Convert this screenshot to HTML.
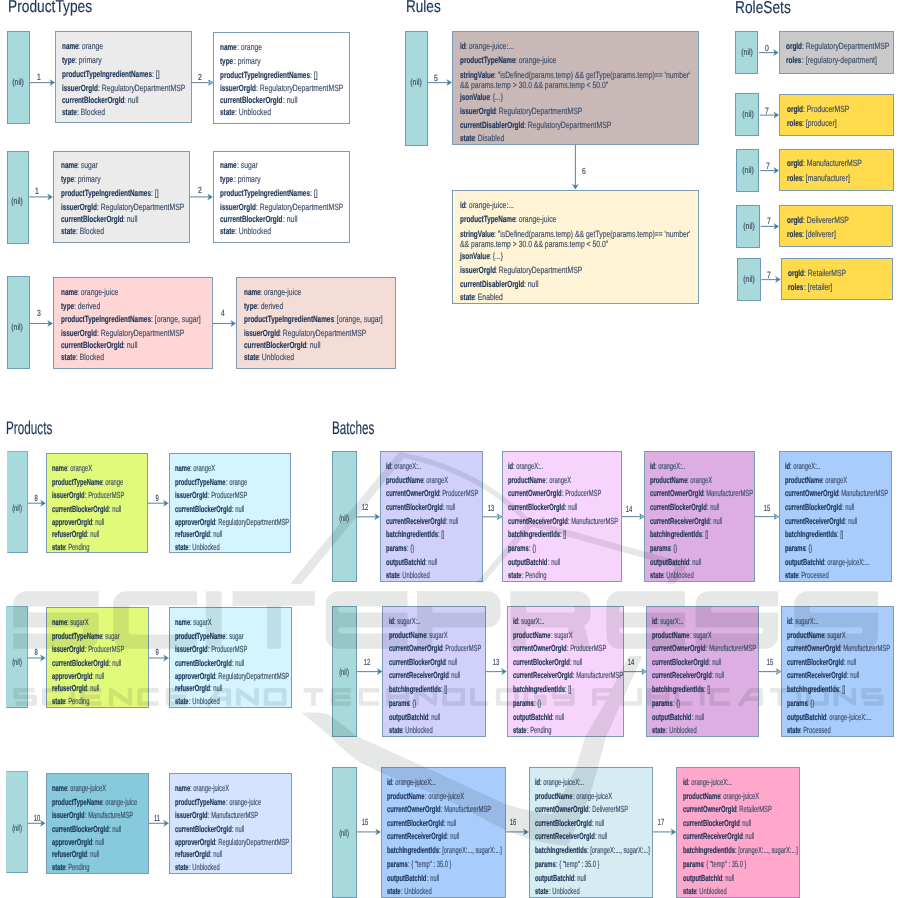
<!DOCTYPE html>
<html><head><meta charset="utf-8"><title>State diagram</title>
<style>
html,body{margin:0;padding:0;background:#fff}
body{width:901px;height:898px;position:relative;overflow:hidden;font-family:"Liberation Sans",sans-serif}
.b{position:absolute;border:1px solid #7c9bb4;box-sizing:content-box}
.t{position:absolute;white-space:pre;text-rendering:geometricPrecision;-webkit-text-stroke:0.18px currentColor;line-height:12px;color:#3f506b;transform-origin:0 50%}
.k{color:#1d3557;font-weight:bold}
.l{width:40px;text-align:center;transform-origin:50% 50%;color:#3b4a63}
.h1{color:#1d3557}
svg.a{position:absolute;left:0;top:0}
svg.a line{stroke:#6b8ba4;stroke-width:1.1}
svg.a .h{fill:#3f7da3;stroke:#3f7da3;stroke-width:0.3}
svg.a .o{fill:#b9d0ea;stroke:#3f7da3;stroke-width:0.8}
svg.w{position:absolute;left:0;top:0;mix-blend-mode:multiply}
</style></head><body>
<div class="t h1" style="left:8.4px;top:-4.0px;font-size:17.2px;line-height:20px;transform:scaleX(0.8)">ProductTypes</div>
<div class="t h1" style="left:405.6px;top:-4.0px;font-size:17.2px;line-height:20px;transform:scaleX(0.79)">Rules</div>
<div class="t h1" style="left:735.4px;top:-3.4px;font-size:17.2px;line-height:20px;transform:scaleX(0.8)">RoleSets</div>
<div class="t h1" style="left:6.4px;top:417.7px;font-size:18.2px;line-height:20px;transform:scaleX(0.645)">Products</div>
<div class="t h1" style="left:331.5px;top:417.6px;font-size:18.2px;line-height:20px;transform:scaleX(0.645)">Batches</div>
<div class="b" style="left:6.8px;top:30.5px;width:21.7px;height:91.2px;background:#a8dadc;border-color:#6a9db3"></div>
<div class="t l" style="left:-2.4px;top:76.0px;font-size:9.0px;transform:scaleX(0.759)">(nil)</div>
<div class="b" style="left:55.0px;top:31.0px;width:135.0px;height:90.0px;background:#ebebeb;border-color:#7c9bb4"></div>
<div class="t k" style="left:61.70px;top:40.3px;font-size:9.0px;transform:scaleX(0.709)">name</div>
<div class="t" style="left:78.37px;top:40.3px;font-size:9.0px;transform:scaleX(0.759)">: orange</div>
<div class="t k" style="left:61.70px;top:54.1px;font-size:9.0px;transform:scaleX(0.709)">type</div>
<div class="t" style="left:74.82px;top:54.1px;font-size:9.0px;transform:scaleX(0.759)">: primary</div>
<div class="t k" style="left:61.70px;top:67.8px;font-size:9.0px;transform:scaleX(0.709)">productTypeIngredientNames</div>
<div class="t" style="left:151.64px;top:67.8px;font-size:9.0px;transform:scaleX(0.759)">: []</div>
<div class="t k" style="left:61.70px;top:81.7px;font-size:9.0px;transform:scaleX(0.709)">issuerOrgId</div>
<div class="t" style="left:97.52px;top:81.7px;font-size:9.0px;transform:scaleX(0.759)">: RegulatoryDepartmentMSP</div>
<div class="t k" style="left:61.70px;top:93.5px;font-size:9.0px;transform:scaleX(0.709)">currentBlockerOrgId</div>
<div class="t" style="left:124.11px;top:93.5px;font-size:9.0px;transform:scaleX(0.759)">: null</div>
<div class="t k" style="left:61.70px;top:105.6px;font-size:9.0px;transform:scaleX(0.709)">state</div>
<div class="t" style="left:76.60px;top:105.6px;font-size:9.0px;transform:scaleX(0.759)">: Blocked</div>
<div class="b" style="left:212.8px;top:31.7px;width:135.7px;height:90.0px;background:#ffffff;border-color:#7c9bb4"></div>
<div class="t k" style="left:220.40px;top:41.0px;font-size:9.0px;transform:scaleX(0.709)">name</div>
<div class="t" style="left:237.07px;top:41.0px;font-size:9.0px;transform:scaleX(0.759)">: orange</div>
<div class="t k" style="left:220.40px;top:54.8px;font-size:9.0px;transform:scaleX(0.709)">type</div>
<div class="t" style="left:233.52px;top:54.8px;font-size:9.0px;transform:scaleX(0.759)">: primary</div>
<div class="t k" style="left:220.40px;top:68.5px;font-size:9.0px;transform:scaleX(0.709)">productTypeIngredientNames</div>
<div class="t" style="left:310.34px;top:68.5px;font-size:9.0px;transform:scaleX(0.759)">: []</div>
<div class="t k" style="left:220.40px;top:82.4px;font-size:9.0px;transform:scaleX(0.709)">issuerOrgId</div>
<div class="t" style="left:256.22px;top:82.4px;font-size:9.0px;transform:scaleX(0.759)">: RegulatoryDepartmentMSP</div>
<div class="t k" style="left:220.40px;top:94.2px;font-size:9.0px;transform:scaleX(0.709)">currentBlockerOrgId</div>
<div class="t" style="left:282.81px;top:94.2px;font-size:9.0px;transform:scaleX(0.759)">: null</div>
<div class="t k" style="left:220.40px;top:106.3px;font-size:9.0px;transform:scaleX(0.709)">state</div>
<div class="t" style="left:235.30px;top:106.3px;font-size:9.0px;transform:scaleX(0.759)">: Unblocked</div>
<div class="t l" style="left:18.6px;top:71.2px;font-size:9.0px;transform:scaleX(0.759)">1</div>
<div class="t l" style="left:180.0px;top:71.2px;font-size:9.0px;transform:scaleX(0.759)">2</div>
<div class="b" style="left:6.6px;top:150.7px;width:20.8px;height:91.1px;background:#a8dadc;border-color:#6a9db3"></div>
<div class="t l" style="left:-3.0px;top:195.0px;font-size:9.0px;transform:scaleX(0.759)">(nil)</div>
<div class="b" style="left:52.8px;top:150.7px;width:135.5px;height:90.0px;background:#ebebeb;border-color:#7c9bb4"></div>
<div class="t k" style="left:60.80px;top:159.3px;font-size:9.0px;transform:scaleX(0.709)">name</div>
<div class="t" style="left:77.47px;top:159.3px;font-size:9.0px;transform:scaleX(0.759)">: sugar</div>
<div class="t k" style="left:60.80px;top:173.1px;font-size:9.0px;transform:scaleX(0.709)">type</div>
<div class="t" style="left:73.92px;top:173.1px;font-size:9.0px;transform:scaleX(0.759)">: primary</div>
<div class="t k" style="left:60.80px;top:186.8px;font-size:9.0px;transform:scaleX(0.709)">productTypeIngredientNames</div>
<div class="t" style="left:150.74px;top:186.8px;font-size:9.0px;transform:scaleX(0.759)">: []</div>
<div class="t k" style="left:60.80px;top:200.7px;font-size:9.0px;transform:scaleX(0.709)">issuerOrgId</div>
<div class="t" style="left:96.62px;top:200.7px;font-size:9.0px;transform:scaleX(0.759)">: RegulatoryDepartmentMSP</div>
<div class="t k" style="left:60.80px;top:212.5px;font-size:9.0px;transform:scaleX(0.709)">currentBlockerOrgId</div>
<div class="t" style="left:123.21px;top:212.5px;font-size:9.0px;transform:scaleX(0.759)">: null</div>
<div class="t k" style="left:60.80px;top:224.6px;font-size:9.0px;transform:scaleX(0.709)">state</div>
<div class="t" style="left:75.70px;top:224.6px;font-size:9.0px;transform:scaleX(0.759)">: Blocked</div>
<div class="b" style="left:212.8px;top:150.7px;width:135.7px;height:90.0px;background:#ffffff;border-color:#7c9bb4"></div>
<div class="t k" style="left:220.40px;top:159.3px;font-size:9.0px;transform:scaleX(0.709)">name</div>
<div class="t" style="left:237.07px;top:159.3px;font-size:9.0px;transform:scaleX(0.759)">: sugar</div>
<div class="t k" style="left:220.40px;top:173.1px;font-size:9.0px;transform:scaleX(0.709)">type</div>
<div class="t" style="left:233.52px;top:173.1px;font-size:9.0px;transform:scaleX(0.759)">: primary</div>
<div class="t k" style="left:220.40px;top:186.8px;font-size:9.0px;transform:scaleX(0.709)">productTypeIngredientNames</div>
<div class="t" style="left:310.34px;top:186.8px;font-size:9.0px;transform:scaleX(0.759)">: []</div>
<div class="t k" style="left:220.40px;top:200.7px;font-size:9.0px;transform:scaleX(0.709)">issuerOrgId</div>
<div class="t" style="left:256.22px;top:200.7px;font-size:9.0px;transform:scaleX(0.759)">: RegulatoryDepartmentMSP</div>
<div class="t k" style="left:220.40px;top:212.5px;font-size:9.0px;transform:scaleX(0.709)">currentBlockerOrgId</div>
<div class="t" style="left:282.81px;top:212.5px;font-size:9.0px;transform:scaleX(0.759)">: null</div>
<div class="t k" style="left:220.40px;top:224.6px;font-size:9.0px;transform:scaleX(0.709)">state</div>
<div class="t" style="left:235.30px;top:224.6px;font-size:9.0px;transform:scaleX(0.759)">: Unblocked</div>
<div class="t l" style="left:17.0px;top:185.0px;font-size:9.0px;transform:scaleX(0.759)">1</div>
<div class="t l" style="left:180.0px;top:184.3px;font-size:9.0px;transform:scaleX(0.759)">2</div>
<div class="b" style="left:6.6px;top:275.7px;width:21.4px;height:91.1px;background:#a8dadc;border-color:#6a9db3"></div>
<div class="t l" style="left:-2.7px;top:320.5px;font-size:9.0px;transform:scaleX(0.759)">(nil)</div>
<div class="b" style="left:52.8px;top:276.8px;width:157.9px;height:90.0px;background:#ffd6d6;border-color:#7c9bb4"></div>
<div class="t k" style="left:60.80px;top:285.9px;font-size:9.0px;transform:scaleX(0.709)">name</div>
<div class="t" style="left:77.47px;top:285.9px;font-size:9.0px;transform:scaleX(0.759)">: orange-juice</div>
<div class="t k" style="left:60.80px;top:299.6px;font-size:9.0px;transform:scaleX(0.709)">type</div>
<div class="t" style="left:73.92px;top:299.6px;font-size:9.0px;transform:scaleX(0.759)">: derived</div>
<div class="t k" style="left:60.80px;top:313.2px;font-size:9.0px;transform:scaleX(0.709)">productTypeIngredientNames</div>
<div class="t" style="left:150.74px;top:313.2px;font-size:9.0px;transform:scaleX(0.759)">: [orange, sugar]</div>
<div class="t k" style="left:60.80px;top:327.0px;font-size:9.0px;transform:scaleX(0.709)">issuerOrgId</div>
<div class="t" style="left:96.62px;top:327.0px;font-size:9.0px;transform:scaleX(0.759)">: RegulatoryDepartmentMSP</div>
<div class="t k" style="left:60.80px;top:338.9px;font-size:9.0px;transform:scaleX(0.709)">currentBlockerOrgId</div>
<div class="t" style="left:123.21px;top:338.9px;font-size:9.0px;transform:scaleX(0.759)">: null</div>
<div class="t k" style="left:60.80px;top:351.4px;font-size:9.0px;transform:scaleX(0.709)">state</div>
<div class="t" style="left:75.70px;top:351.4px;font-size:9.0px;transform:scaleX(0.759)">: Blocked</div>
<div class="b" style="left:235.9px;top:276.8px;width:157.9px;height:90.0px;background:#f5ddd7;border-color:#7c9bb4"></div>
<div class="t k" style="left:243.50px;top:285.9px;font-size:9.0px;transform:scaleX(0.709)">name</div>
<div class="t" style="left:260.17px;top:285.9px;font-size:9.0px;transform:scaleX(0.759)">: orange-juice</div>
<div class="t k" style="left:243.50px;top:299.6px;font-size:9.0px;transform:scaleX(0.709)">type</div>
<div class="t" style="left:256.62px;top:299.6px;font-size:9.0px;transform:scaleX(0.759)">: derived</div>
<div class="t k" style="left:243.50px;top:313.2px;font-size:9.0px;transform:scaleX(0.709)">productTypeIngredientNames</div>
<div class="t" style="left:333.44px;top:313.2px;font-size:9.0px;transform:scaleX(0.759)">: [orange, sugar]</div>
<div class="t k" style="left:243.50px;top:327.0px;font-size:9.0px;transform:scaleX(0.709)">issuerOrgId</div>
<div class="t" style="left:279.32px;top:327.0px;font-size:9.0px;transform:scaleX(0.759)">: RegulatoryDepartmentMSP</div>
<div class="t k" style="left:243.50px;top:338.9px;font-size:9.0px;transform:scaleX(0.709)">currentBlockerOrgId</div>
<div class="t" style="left:305.91px;top:338.9px;font-size:9.0px;transform:scaleX(0.759)">: null</div>
<div class="t k" style="left:243.50px;top:351.4px;font-size:9.0px;transform:scaleX(0.709)">state</div>
<div class="t" style="left:258.40px;top:351.4px;font-size:9.0px;transform:scaleX(0.759)">: Unblocked</div>
<div class="t l" style="left:18.6px;top:306.6px;font-size:9.0px;transform:scaleX(0.759)">3</div>
<div class="t l" style="left:203.0px;top:306.6px;font-size:9.0px;transform:scaleX(0.759)">4</div>
<div class="b" style="left:404.8px;top:30.6px;width:21.4px;height:113.0px;background:#a8dadc;border-color:#6a9db3"></div>
<div class="t l" style="left:395.5px;top:75.5px;font-size:9.0px;transform:scaleX(0.759)">(nil)</div>
<div class="b" style="left:451.9px;top:30.6px;width:244.8px;height:112.3px;background:#c9b8b8;border-color:#7c9bb4"></div>
<div class="t k" style="left:459.50px;top:39.8px;font-size:9.0px;transform:scaleX(0.709)">id</div>
<div class="t" style="left:465.17px;top:39.8px;font-size:9.0px;transform:scaleX(0.759)">: orange-juice:...</div>
<div class="t k" style="left:459.50px;top:53.5px;font-size:9.0px;transform:scaleX(0.709)">productTypeName</div>
<div class="t" style="left:515.05px;top:53.5px;font-size:9.0px;transform:scaleX(0.759)">: orange-juice</div>
<div class="t k" style="left:459.50px;top:69.1px;font-size:9.0px;transform:scaleX(0.709)">stringValue</div>
<div class="t" style="left:493.90px;top:69.1px;font-size:9.0px;transform:scaleX(0.759)">: "isDefined(params.temp) &amp;&amp; getType(params.temp)== 'number'</div>
<div class="t" style="left:459.50px;top:78.6px;font-size:9.0px;transform:scaleX(0.759)">&amp;&amp; params.temp &gt; 30.0 &amp;&amp; params.temp &lt; 50.0"</div>
<div class="t k" style="left:459.50px;top:91.1px;font-size:9.0px;transform:scaleX(0.709)">jsonValue</div>
<div class="t" style="left:489.29px;top:91.1px;font-size:9.0px;transform:scaleX(0.759)">: {...}</div>
<div class="t k" style="left:459.50px;top:104.7px;font-size:9.0px;transform:scaleX(0.709)">issuerOrgId</div>
<div class="t" style="left:495.32px;top:104.7px;font-size:9.0px;transform:scaleX(0.759)">: RegulatoryDepartmentMSP</div>
<div class="t k" style="left:459.50px;top:119.2px;font-size:9.0px;transform:scaleX(0.709)">currentDisablerOrgId</div>
<div class="t" style="left:523.68px;top:119.2px;font-size:9.0px;transform:scaleX(0.759)">: RegulatoryDepartmentMSP</div>
<div class="t k" style="left:459.50px;top:132.0px;font-size:9.0px;transform:scaleX(0.709)">state</div>
<div class="t" style="left:474.40px;top:132.0px;font-size:9.0px;transform:scaleX(0.759)">: Disabled</div>
<div class="t l" style="left:416.2px;top:71.7px;font-size:9.0px;transform:scaleX(0.759)">5</div>
<div class="t l" style="left:564.2px;top:165.0px;font-size:9.0px;transform:scaleX(0.759)">6</div>
<div class="b" style="left:451.9px;top:189.8px;width:244.9px;height:112.4px;background:#fff5d6;border-color:#7c9bb4"></div>
<div class="t k" style="left:459.50px;top:198.9px;font-size:9.0px;transform:scaleX(0.709)">id</div>
<div class="t" style="left:465.17px;top:198.9px;font-size:9.0px;transform:scaleX(0.759)">: orange-juice:...</div>
<div class="t k" style="left:459.50px;top:212.6px;font-size:9.0px;transform:scaleX(0.709)">productTypeName</div>
<div class="t" style="left:515.05px;top:212.6px;font-size:9.0px;transform:scaleX(0.759)">: orange-juice</div>
<div class="t k" style="left:459.50px;top:228.2px;font-size:9.0px;transform:scaleX(0.709)">stringValue</div>
<div class="t" style="left:493.90px;top:228.2px;font-size:9.0px;transform:scaleX(0.759)">: "isDefined(params.temp) &amp;&amp; getType(params.temp)== 'number'</div>
<div class="t" style="left:459.50px;top:237.7px;font-size:9.0px;transform:scaleX(0.759)">&amp;&amp; params.temp &gt; 30.0 &amp;&amp; params.temp &lt; 50.0"</div>
<div class="t k" style="left:459.50px;top:250.2px;font-size:9.0px;transform:scaleX(0.709)">jsonValue</div>
<div class="t" style="left:489.29px;top:250.2px;font-size:9.0px;transform:scaleX(0.759)">: {...}</div>
<div class="t k" style="left:459.50px;top:263.8px;font-size:9.0px;transform:scaleX(0.709)">issuerOrgId</div>
<div class="t" style="left:495.32px;top:263.8px;font-size:9.0px;transform:scaleX(0.759)">: RegulatoryDepartmentMSP</div>
<div class="t k" style="left:459.50px;top:278.3px;font-size:9.0px;transform:scaleX(0.709)">currentDisablerOrgId</div>
<div class="t" style="left:523.68px;top:278.3px;font-size:9.0px;transform:scaleX(0.759)">: null</div>
<div class="t k" style="left:459.50px;top:291.1px;font-size:9.0px;transform:scaleX(0.709)">state</div>
<div class="t" style="left:474.40px;top:291.1px;font-size:9.0px;transform:scaleX(0.759)">: Enabled</div>
<div class="b" style="left:734.8px;top:30.6px;width:21.5px;height:41.2px;background:#a8dadc;border-color:#6a9db3"></div>
<div class="t l" style="left:727.0px;top:46.2px;font-size:9.0px;transform:scaleX(0.759)">(nil)</div>
<div class="b" style="left:778.6px;top:31.0px;width:113.7px;height:40.8px;background:#c9c9c9;border-color:#7c9bb4"></div>
<div class="t k" style="left:786.30px;top:40.4px;font-size:9.0px;transform:scaleX(0.709)">orgId</div>
<div class="t" style="left:802.25px;top:40.4px;font-size:9.0px;transform:scaleX(0.759)">: RegulatoryDepartmentMSP</div>
<div class="t k" style="left:786.30px;top:54.0px;font-size:9.0px;transform:scaleX(0.709)">roles</div>
<div class="t" style="left:801.55px;top:54.0px;font-size:9.0px;transform:scaleX(0.759)">: [regulatory-department]</div>
<div class="t l" style="left:747.0px;top:42.2px;font-size:9.0px;transform:scaleX(0.759)">0</div>
<div class="b" style="left:735.2px;top:93.1px;width:21.9px;height:40.6px;background:#a8dadc;border-color:#6a9db3"></div>
<div class="t l" style="left:727.7px;top:108.4px;font-size:9.0px;transform:scaleX(0.759)">(nil)</div>
<div class="b" style="left:779.0px;top:93.9px;width:113.3px;height:39.8px;background:#ffdb4d;border-color:#7c9bb4"></div>
<div class="t k" style="left:786.90px;top:102.9px;font-size:9.0px;transform:scaleX(0.709)">orgId</div>
<div class="t" style="left:802.85px;top:102.9px;font-size:9.0px;transform:scaleX(0.759)">: ProducerMSP</div>
<div class="t k" style="left:786.90px;top:116.8px;font-size:9.0px;transform:scaleX(0.709)">roles</div>
<div class="t" style="left:802.15px;top:116.8px;font-size:9.0px;transform:scaleX(0.759)">: [producer]</div>
<div class="t l" style="left:747.4px;top:104.5px;font-size:9.0px;transform:scaleX(0.759)">7</div>
<div class="b" style="left:735.8px;top:148.8px;width:21.7px;height:40.8px;background:#a8dadc;border-color:#6a9db3"></div>
<div class="t l" style="left:728.1px;top:164.2px;font-size:9.0px;transform:scaleX(0.759)">(nil)</div>
<div class="b" style="left:779.0px;top:148.8px;width:112.7px;height:40.0px;background:#ffdb4d;border-color:#7c9bb4"></div>
<div class="t k" style="left:786.90px;top:157.1px;font-size:9.0px;transform:scaleX(0.709)">orgId</div>
<div class="t" style="left:802.85px;top:157.1px;font-size:9.0px;transform:scaleX(0.759)">: ManufacturerMSP</div>
<div class="t k" style="left:786.90px;top:171.6px;font-size:9.0px;transform:scaleX(0.709)">roles</div>
<div class="t" style="left:802.15px;top:171.6px;font-size:9.0px;transform:scaleX(0.759)">: [manufacturer]</div>
<div class="t l" style="left:748.0px;top:160.0px;font-size:9.0px;transform:scaleX(0.759)">7</div>
<div class="b" style="left:736.4px;top:204.6px;width:21.7px;height:41.2px;background:#a8dadc;border-color:#6a9db3"></div>
<div class="t l" style="left:728.8px;top:220.2px;font-size:9.0px;transform:scaleX(0.759)">(nil)</div>
<div class="b" style="left:779.0px;top:205.0px;width:112.3px;height:40.3px;background:#ffdb4d;border-color:#7c9bb4"></div>
<div class="t k" style="left:786.90px;top:214.2px;font-size:9.0px;transform:scaleX(0.709)">orgId</div>
<div class="t" style="left:802.85px;top:214.2px;font-size:9.0px;transform:scaleX(0.759)">: DelivererMSP</div>
<div class="t k" style="left:786.90px;top:228.3px;font-size:9.0px;transform:scaleX(0.709)">roles</div>
<div class="t" style="left:802.15px;top:228.3px;font-size:9.0px;transform:scaleX(0.759)">: [deliverer]</div>
<div class="t l" style="left:749.0px;top:215.1px;font-size:9.0px;transform:scaleX(0.759)">7</div>
<div class="b" style="left:737.0px;top:257.8px;width:21.7px;height:41.2px;background:#a8dadc;border-color:#6a9db3"></div>
<div class="t l" style="left:729.4px;top:273.4px;font-size:9.0px;transform:scaleX(0.759)">(nil)</div>
<div class="b" style="left:780.6px;top:257.8px;width:110.7px;height:40.2px;background:#ffdb4d;border-color:#7c9bb4"></div>
<div class="t k" style="left:788.30px;top:266.9px;font-size:9.0px;transform:scaleX(0.709)">orgId</div>
<div class="t" style="left:804.25px;top:266.9px;font-size:9.0px;transform:scaleX(0.759)">: RetailerMSP</div>
<div class="t k" style="left:788.30px;top:281.1px;font-size:9.0px;transform:scaleX(0.709)">roles</div>
<div class="t" style="left:803.55px;top:281.1px;font-size:9.0px;transform:scaleX(0.759)">: [retailer]</div>
<div class="t l" style="left:749.4px;top:268.6px;font-size:9.0px;transform:scaleX(0.759)">7</div>
<div class="b" style="left:6.6px;top:451.2px;width:19.4px;height:99.9px;background:#a8dadc;border-color:#6a9db3;border-left-color:transparent;border-right-color:#93aab3;border-top-color:#82b4c6"></div>
<div class="t l" style="left:-3.2px;top:501.5px;font-size:8.8px;transform:scaleX(0.66)">(nil)</div>
<div class="b" style="left:45.7px;top:452.7px;width:100.7px;height:98.4px;background:#e2fa7a;border-color:#7c9bb4"></div>
<div class="t k" style="left:51.90px;top:462.2px;font-size:8.8px;transform:scaleX(0.66)">name</div>
<div class="t" style="left:67.07px;top:462.2px;font-size:8.8px;transform:scaleX(0.66)">: orangeX</div>
<div class="t k" style="left:51.90px;top:475.7px;font-size:8.8px;transform:scaleX(0.66)">productTypeName</div>
<div class="t" style="left:102.46px;top:475.7px;font-size:8.8px;transform:scaleX(0.66)">: orange</div>
<div class="t k" style="left:51.90px;top:489.3px;font-size:8.8px;transform:scaleX(0.66)">issuerOrgId</div>
<div class="t" style="left:84.50px;top:489.3px;font-size:8.8px;transform:scaleX(0.66)">: ProducerMSP</div>
<div class="t k" style="left:51.90px;top:502.8px;font-size:8.8px;transform:scaleX(0.66)">currentBlockerOrgId</div>
<div class="t" style="left:108.70px;top:502.8px;font-size:8.8px;transform:scaleX(0.66)">: null</div>
<div class="t k" style="left:51.90px;top:516.2px;font-size:8.8px;transform:scaleX(0.66)">approverOrgId</div>
<div class="t" style="left:92.24px;top:516.2px;font-size:8.8px;transform:scaleX(0.66)">: null</div>
<div class="t k" style="left:51.90px;top:528.3px;font-size:8.8px;transform:scaleX(0.66)">refuserOrgId</div>
<div class="t" style="left:87.08px;top:528.3px;font-size:8.8px;transform:scaleX(0.66)">: null</div>
<div class="t k" style="left:51.90px;top:540.7px;font-size:8.8px;transform:scaleX(0.66)">state</div>
<div class="t" style="left:65.46px;top:540.7px;font-size:8.8px;transform:scaleX(0.66)">: Pending</div>
<div class="b" style="left:168.6px;top:452.7px;width:120.9px;height:98.4px;background:#d4f4ff;border-color:#7c9bb4"></div>
<div class="t k" style="left:175.00px;top:462.2px;font-size:8.8px;transform:scaleX(0.66)">name</div>
<div class="t" style="left:190.17px;top:462.2px;font-size:8.8px;transform:scaleX(0.66)">: orangeX</div>
<div class="t k" style="left:175.00px;top:475.7px;font-size:8.8px;transform:scaleX(0.66)">productTypeName</div>
<div class="t" style="left:225.56px;top:475.7px;font-size:8.8px;transform:scaleX(0.66)">: orange</div>
<div class="t k" style="left:175.00px;top:489.3px;font-size:8.8px;transform:scaleX(0.66)">issuerOrgId</div>
<div class="t" style="left:207.60px;top:489.3px;font-size:8.8px;transform:scaleX(0.66)">: ProducerMSP</div>
<div class="t k" style="left:175.00px;top:502.8px;font-size:8.8px;transform:scaleX(0.66)">currentBlockerOrgId</div>
<div class="t" style="left:231.80px;top:502.8px;font-size:8.8px;transform:scaleX(0.66)">: null</div>
<div class="t k" style="left:175.00px;top:516.2px;font-size:8.8px;transform:scaleX(0.66)">approverOrgId</div>
<div class="t" style="left:215.34px;top:516.2px;font-size:8.8px;transform:scaleX(0.66)">: RegulatoryDepartmentMSP</div>
<div class="t k" style="left:175.00px;top:528.3px;font-size:8.8px;transform:scaleX(0.66)">refuserOrgId</div>
<div class="t" style="left:210.18px;top:528.3px;font-size:8.8px;transform:scaleX(0.66)">: null</div>
<div class="t k" style="left:175.00px;top:540.7px;font-size:8.8px;transform:scaleX(0.66)">state</div>
<div class="t" style="left:188.56px;top:540.7px;font-size:8.8px;transform:scaleX(0.66)">: Unblocked</div>
<div class="t l" style="left:16.2px;top:491.9px;font-size:8.8px;transform:scaleX(0.66)">8</div>
<div class="t l" style="left:136.5px;top:491.9px;font-size:8.8px;transform:scaleX(0.66)">9</div>
<div class="b" style="left:6.2px;top:605.5px;width:19.6px;height:100.3px;background:#a8dadc;border-color:#6a9db3;border-left-color:transparent;border-right-color:#93aab3;border-top-color:#82b4c6"></div>
<div class="t l" style="left:-3.5px;top:655.5px;font-size:8.8px;transform:scaleX(0.66)">(nil)</div>
<div class="b" style="left:45.5px;top:606.8px;width:101.3px;height:99.0px;background:#e2fa7a;border-color:#7c9bb4"></div>
<div class="t k" style="left:51.90px;top:616.3px;font-size:8.8px;transform:scaleX(0.66)">name</div>
<div class="t" style="left:67.07px;top:616.3px;font-size:8.8px;transform:scaleX(0.66)">: sugarX</div>
<div class="t k" style="left:51.90px;top:629.8px;font-size:8.8px;transform:scaleX(0.66)">productTypeName</div>
<div class="t" style="left:102.46px;top:629.8px;font-size:8.8px;transform:scaleX(0.66)">: sugar</div>
<div class="t k" style="left:51.90px;top:643.4px;font-size:8.8px;transform:scaleX(0.66)">issuerOrgId</div>
<div class="t" style="left:84.50px;top:643.4px;font-size:8.8px;transform:scaleX(0.66)">: ProducerMSP</div>
<div class="t k" style="left:51.90px;top:656.9px;font-size:8.8px;transform:scaleX(0.66)">currentBlockerOrgId</div>
<div class="t" style="left:108.70px;top:656.9px;font-size:8.8px;transform:scaleX(0.66)">: null</div>
<div class="t k" style="left:51.90px;top:670.3px;font-size:8.8px;transform:scaleX(0.66)">approverOrgId</div>
<div class="t" style="left:92.24px;top:670.3px;font-size:8.8px;transform:scaleX(0.66)">: null</div>
<div class="t k" style="left:51.90px;top:682.4px;font-size:8.8px;transform:scaleX(0.66)">refuserOrgId</div>
<div class="t" style="left:87.08px;top:682.4px;font-size:8.8px;transform:scaleX(0.66)">: null</div>
<div class="t k" style="left:51.90px;top:694.8px;font-size:8.8px;transform:scaleX(0.66)">state</div>
<div class="t" style="left:65.46px;top:694.8px;font-size:8.8px;transform:scaleX(0.66)">: Pending</div>
<div class="b" style="left:168.8px;top:606.8px;width:121.0px;height:99.0px;background:#d4f4ff;border-color:#7c9bb4"></div>
<div class="t k" style="left:175.00px;top:616.3px;font-size:8.8px;transform:scaleX(0.66)">name</div>
<div class="t" style="left:190.17px;top:616.3px;font-size:8.8px;transform:scaleX(0.66)">: sugarX</div>
<div class="t k" style="left:175.00px;top:629.8px;font-size:8.8px;transform:scaleX(0.66)">productTypeName</div>
<div class="t" style="left:225.56px;top:629.8px;font-size:8.8px;transform:scaleX(0.66)">: sugar</div>
<div class="t k" style="left:175.00px;top:643.4px;font-size:8.8px;transform:scaleX(0.66)">issuerOrgId</div>
<div class="t" style="left:207.60px;top:643.4px;font-size:8.8px;transform:scaleX(0.66)">: ProducerMSP</div>
<div class="t k" style="left:175.00px;top:656.9px;font-size:8.8px;transform:scaleX(0.66)">currentBlockerOrgId</div>
<div class="t" style="left:231.80px;top:656.9px;font-size:8.8px;transform:scaleX(0.66)">: null</div>
<div class="t k" style="left:175.00px;top:670.3px;font-size:8.8px;transform:scaleX(0.66)">approverOrgId</div>
<div class="t" style="left:215.34px;top:670.3px;font-size:8.8px;transform:scaleX(0.66)">: RegulatoryDepartmentMSP</div>
<div class="t k" style="left:175.00px;top:682.4px;font-size:8.8px;transform:scaleX(0.66)">refuserOrgId</div>
<div class="t" style="left:210.18px;top:682.4px;font-size:8.8px;transform:scaleX(0.66)">: null</div>
<div class="t k" style="left:175.00px;top:694.8px;font-size:8.8px;transform:scaleX(0.66)">state</div>
<div class="t" style="left:188.56px;top:694.8px;font-size:8.8px;transform:scaleX(0.66)">: Unblocked</div>
<div class="t l" style="left:16.2px;top:646.0px;font-size:8.8px;transform:scaleX(0.66)">8</div>
<div class="t l" style="left:136.5px;top:646.0px;font-size:8.8px;transform:scaleX(0.66)">9</div>
<div class="b" style="left:6.2px;top:770.8px;width:20.0px;height:100.7px;background:#a8dadc;border-color:#6a9db3;border-left-color:transparent;border-right-color:#93aab3;border-top-color:#82b4c6"></div>
<div class="t l" style="left:-3.3px;top:822.0px;font-size:8.8px;transform:scaleX(0.66)">(nil)</div>
<div class="b" style="left:45.5px;top:772.5px;width:101.7px;height:99.0px;background:#86cadb;border-color:#7c9bb4"></div>
<div class="t k" style="left:51.90px;top:782.0px;font-size:8.8px;transform:scaleX(0.66)">name</div>
<div class="t" style="left:67.07px;top:782.0px;font-size:8.8px;transform:scaleX(0.66)">: orange-juiceX</div>
<div class="t k" style="left:51.90px;top:795.5px;font-size:8.8px;transform:scaleX(0.66)">productTypeName</div>
<div class="t" style="left:102.46px;top:795.5px;font-size:8.8px;transform:scaleX(0.66)">: orange-juice</div>
<div class="t k" style="left:51.90px;top:809.1px;font-size:8.8px;transform:scaleX(0.66)">issuerOrgId</div>
<div class="t" style="left:84.50px;top:809.1px;font-size:8.8px;transform:scaleX(0.66)">: ManufactureMSP</div>
<div class="t k" style="left:51.90px;top:822.6px;font-size:8.8px;transform:scaleX(0.66)">currentBlockerOrgId</div>
<div class="t" style="left:108.70px;top:822.6px;font-size:8.8px;transform:scaleX(0.66)">: null</div>
<div class="t k" style="left:51.90px;top:836.0px;font-size:8.8px;transform:scaleX(0.66)">approverOrgId</div>
<div class="t" style="left:92.24px;top:836.0px;font-size:8.8px;transform:scaleX(0.66)">: null</div>
<div class="t k" style="left:51.90px;top:848.1px;font-size:8.8px;transform:scaleX(0.66)">refuserOrgId</div>
<div class="t" style="left:87.08px;top:848.1px;font-size:8.8px;transform:scaleX(0.66)">: null</div>
<div class="t k" style="left:51.90px;top:860.5px;font-size:8.8px;transform:scaleX(0.66)">state</div>
<div class="t" style="left:65.46px;top:860.5px;font-size:8.8px;transform:scaleX(0.66)">: Pending</div>
<div class="b" style="left:168.8px;top:772.5px;width:121.0px;height:99.0px;background:#d4e4ff;border-color:#7c9bb4"></div>
<div class="t k" style="left:175.00px;top:782.0px;font-size:8.8px;transform:scaleX(0.66)">name</div>
<div class="t" style="left:190.17px;top:782.0px;font-size:8.8px;transform:scaleX(0.66)">: orange-juiceX</div>
<div class="t k" style="left:175.00px;top:795.5px;font-size:8.8px;transform:scaleX(0.66)">productTypeName</div>
<div class="t" style="left:225.56px;top:795.5px;font-size:8.8px;transform:scaleX(0.66)">: orange-juice</div>
<div class="t k" style="left:175.00px;top:809.1px;font-size:8.8px;transform:scaleX(0.66)">issuerOrgId</div>
<div class="t" style="left:207.60px;top:809.1px;font-size:8.8px;transform:scaleX(0.66)">: ManufacturerMSP</div>
<div class="t k" style="left:175.00px;top:822.6px;font-size:8.8px;transform:scaleX(0.66)">currentBlockerOrgId</div>
<div class="t" style="left:231.80px;top:822.6px;font-size:8.8px;transform:scaleX(0.66)">: null</div>
<div class="t k" style="left:175.00px;top:836.0px;font-size:8.8px;transform:scaleX(0.66)">approverOrgId</div>
<div class="t" style="left:215.34px;top:836.0px;font-size:8.8px;transform:scaleX(0.66)">: RegulatoryDepartmentMSP</div>
<div class="t k" style="left:175.00px;top:848.1px;font-size:8.8px;transform:scaleX(0.66)">refuserOrgId</div>
<div class="t" style="left:210.18px;top:848.1px;font-size:8.8px;transform:scaleX(0.66)">: null</div>
<div class="t k" style="left:175.00px;top:860.5px;font-size:8.8px;transform:scaleX(0.66)">state</div>
<div class="t" style="left:188.56px;top:860.5px;font-size:8.8px;transform:scaleX(0.66)">: Unblocked</div>
<div class="t l" style="left:16.7px;top:812.0px;font-size:8.8px;transform:scaleX(0.66)">10</div>
<div class="t l" style="left:136.7px;top:812.0px;font-size:8.8px;transform:scaleX(0.66)">11</div>
<div class="b" style="left:331.7px;top:450.9px;width:23.4px;height:129.2px;background:#a8dadc;border-color:#6a9db3"></div>
<div class="t l" style="left:323.9px;top:511.5px;font-size:8.8px;transform:scaleX(0.66)">(nil)</div>
<div class="b" style="left:379.8px;top:450.9px;width:101.5px;height:129.2px;background:#d0d0fb;border-color:#7c9bb4"></div>
<div class="t k" style="left:385.90px;top:460.3px;font-size:8.8px;transform:scaleX(0.66)">id</div>
<div class="t" style="left:391.06px;top:460.3px;font-size:8.8px;transform:scaleX(0.66)">: orangeX:..</div>
<div class="t k" style="left:385.90px;top:473.9px;font-size:8.8px;transform:scaleX(0.66)">productName</div>
<div class="t" style="left:423.33px;top:473.9px;font-size:8.8px;transform:scaleX(0.66)">: orangeX</div>
<div class="t k" style="left:385.90px;top:487.3px;font-size:8.8px;transform:scaleX(0.66)">currentOwnerOrgId</div>
<div class="t" style="left:439.47px;top:487.3px;font-size:8.8px;transform:scaleX(0.66)">: ProducerMSP</div>
<div class="t k" style="left:385.90px;top:500.9px;font-size:8.8px;transform:scaleX(0.66)">currentBlockerOrgId</div>
<div class="t" style="left:442.70px;top:500.9px;font-size:8.8px;transform:scaleX(0.66)">: null</div>
<div class="t k" style="left:385.90px;top:514.5px;font-size:8.8px;transform:scaleX(0.66)">currentReceiverOrgId</div>
<div class="t" style="left:445.62px;top:514.5px;font-size:8.8px;transform:scaleX(0.66)">: null</div>
<div class="t k" style="left:385.90px;top:528.3px;font-size:8.8px;transform:scaleX(0.66)">batchIngredientIds</div>
<div class="t" style="left:437.85px;top:528.3px;font-size:8.8px;transform:scaleX(0.66)">: []</div>
<div class="t k" style="left:385.90px;top:541.9px;font-size:8.8px;transform:scaleX(0.66)">params</div>
<div class="t" style="left:406.56px;top:541.9px;font-size:8.8px;transform:scaleX(0.66)">: {}</div>
<div class="t k" style="left:385.90px;top:555.9px;font-size:8.8px;transform:scaleX(0.66)">outputBatchId</div>
<div class="t" style="left:425.26px;top:555.9px;font-size:8.8px;transform:scaleX(0.66)">: null</div>
<div class="t k" style="left:385.90px;top:569.4px;font-size:8.8px;transform:scaleX(0.66)">state</div>
<div class="t" style="left:399.46px;top:569.4px;font-size:8.8px;transform:scaleX(0.66)">: Unblocked</div>
<div class="b" style="left:501.7px;top:450.9px;width:118.7px;height:129.2px;background:#f7d4fb;border-color:#7c9bb4"></div>
<div class="t k" style="left:508.20px;top:460.3px;font-size:8.8px;transform:scaleX(0.66)">id</div>
<div class="t" style="left:513.36px;top:460.3px;font-size:8.8px;transform:scaleX(0.66)">: orangeX:..</div>
<div class="t k" style="left:508.20px;top:473.9px;font-size:8.8px;transform:scaleX(0.66)">productName</div>
<div class="t" style="left:545.63px;top:473.9px;font-size:8.8px;transform:scaleX(0.66)">: orangeX</div>
<div class="t k" style="left:508.20px;top:487.3px;font-size:8.8px;transform:scaleX(0.66)">currentOwnerOrgId</div>
<div class="t" style="left:561.77px;top:487.3px;font-size:8.8px;transform:scaleX(0.66)">: ProducerMSP</div>
<div class="t k" style="left:508.20px;top:500.9px;font-size:8.8px;transform:scaleX(0.66)">currentBlockerOrgId</div>
<div class="t" style="left:565.00px;top:500.9px;font-size:8.8px;transform:scaleX(0.66)">: null</div>
<div class="t k" style="left:508.20px;top:514.5px;font-size:8.8px;transform:scaleX(0.66)">currentReceiverOrgId</div>
<div class="t" style="left:567.92px;top:514.5px;font-size:8.8px;transform:scaleX(0.66)">: ManufacturerMSP</div>
<div class="t k" style="left:508.20px;top:528.3px;font-size:8.8px;transform:scaleX(0.66)">batchIngredientIds</div>
<div class="t" style="left:560.15px;top:528.3px;font-size:8.8px;transform:scaleX(0.66)">: []</div>
<div class="t k" style="left:508.20px;top:541.9px;font-size:8.8px;transform:scaleX(0.66)">params</div>
<div class="t" style="left:528.86px;top:541.9px;font-size:8.8px;transform:scaleX(0.66)">: {}</div>
<div class="t k" style="left:508.20px;top:555.9px;font-size:8.8px;transform:scaleX(0.66)">outputBatchId</div>
<div class="t" style="left:547.56px;top:555.9px;font-size:8.8px;transform:scaleX(0.66)">: null</div>
<div class="t k" style="left:508.20px;top:569.4px;font-size:8.8px;transform:scaleX(0.66)">state</div>
<div class="t" style="left:521.76px;top:569.4px;font-size:8.8px;transform:scaleX(0.66)">: Pending</div>
<div class="b" style="left:644.0px;top:450.9px;width:109.4px;height:129.2px;background:#dcaee2;border-color:#7c9bb4"></div>
<div class="t k" style="left:649.80px;top:460.3px;font-size:8.8px;transform:scaleX(0.66)">id</div>
<div class="t" style="left:654.96px;top:460.3px;font-size:8.8px;transform:scaleX(0.66)">: orangeX:..</div>
<div class="t k" style="left:649.80px;top:473.9px;font-size:8.8px;transform:scaleX(0.66)">productName</div>
<div class="t" style="left:687.23px;top:473.9px;font-size:8.8px;transform:scaleX(0.66)">: orangeX</div>
<div class="t k" style="left:649.80px;top:487.3px;font-size:8.8px;transform:scaleX(0.66)">currentOwnerOrgId</div>
<div class="t" style="left:703.37px;top:487.3px;font-size:8.8px;transform:scaleX(0.66)">: ManufacturerMSP</div>
<div class="t k" style="left:649.80px;top:500.9px;font-size:8.8px;transform:scaleX(0.66)">currentBlockerOrgId</div>
<div class="t" style="left:706.60px;top:500.9px;font-size:8.8px;transform:scaleX(0.66)">: null</div>
<div class="t k" style="left:649.80px;top:514.5px;font-size:8.8px;transform:scaleX(0.66)">currentReceiverOrgId</div>
<div class="t" style="left:709.52px;top:514.5px;font-size:8.8px;transform:scaleX(0.66)">: null</div>
<div class="t k" style="left:649.80px;top:528.3px;font-size:8.8px;transform:scaleX(0.66)">batchIngredientIds</div>
<div class="t" style="left:701.75px;top:528.3px;font-size:8.8px;transform:scaleX(0.66)">: []</div>
<div class="t k" style="left:649.80px;top:541.9px;font-size:8.8px;transform:scaleX(0.66)">params</div>
<div class="t" style="left:670.46px;top:541.9px;font-size:8.8px;transform:scaleX(0.66)">: {}</div>
<div class="t k" style="left:649.80px;top:555.9px;font-size:8.8px;transform:scaleX(0.66)">outputBatchId</div>
<div class="t" style="left:689.16px;top:555.9px;font-size:8.8px;transform:scaleX(0.66)">: null</div>
<div class="t k" style="left:649.80px;top:569.4px;font-size:8.8px;transform:scaleX(0.66)">state</div>
<div class="t" style="left:663.36px;top:569.4px;font-size:8.8px;transform:scaleX(0.66)">: Unblocked</div>
<div class="b" style="left:778.5px;top:450.9px;width:111.2px;height:129.2px;background:#a8ccfc;border-color:#7c9bb4"></div>
<div class="t k" style="left:784.80px;top:460.3px;font-size:8.8px;transform:scaleX(0.66)">id</div>
<div class="t" style="left:789.96px;top:460.3px;font-size:8.8px;transform:scaleX(0.66)">: orangeX:..</div>
<div class="t k" style="left:784.80px;top:473.9px;font-size:8.8px;transform:scaleX(0.66)">productName</div>
<div class="t" style="left:822.23px;top:473.9px;font-size:8.8px;transform:scaleX(0.66)">: orangeX</div>
<div class="t k" style="left:784.80px;top:487.3px;font-size:8.8px;transform:scaleX(0.66)">currentOwnerOrgId</div>
<div class="t" style="left:838.37px;top:487.3px;font-size:8.8px;transform:scaleX(0.66)">: ManufacturerMSP</div>
<div class="t k" style="left:784.80px;top:500.9px;font-size:8.8px;transform:scaleX(0.66)">currentBlockerOrgId</div>
<div class="t" style="left:841.60px;top:500.9px;font-size:8.8px;transform:scaleX(0.66)">: null</div>
<div class="t k" style="left:784.80px;top:514.5px;font-size:8.8px;transform:scaleX(0.66)">currentReceiverOrgId</div>
<div class="t" style="left:844.52px;top:514.5px;font-size:8.8px;transform:scaleX(0.66)">: null</div>
<div class="t k" style="left:784.80px;top:528.3px;font-size:8.8px;transform:scaleX(0.66)">batchIngredientIds</div>
<div class="t" style="left:836.75px;top:528.3px;font-size:8.8px;transform:scaleX(0.66)">: []</div>
<div class="t k" style="left:784.80px;top:541.9px;font-size:8.8px;transform:scaleX(0.66)">params</div>
<div class="t" style="left:805.46px;top:541.9px;font-size:8.8px;transform:scaleX(0.66)">: {}</div>
<div class="t k" style="left:784.80px;top:555.9px;font-size:8.8px;transform:scaleX(0.66)">outputBatchId</div>
<div class="t" style="left:824.16px;top:555.9px;font-size:8.8px;transform:scaleX(0.66)">: orange-juiceX:...</div>
<div class="t k" style="left:784.80px;top:569.4px;font-size:8.8px;transform:scaleX(0.66)">state</div>
<div class="t" style="left:798.36px;top:569.4px;font-size:8.8px;transform:scaleX(0.66)">: Processed</div>
<div class="t l" style="left:345.0px;top:501.3px;font-size:8.8px;transform:scaleX(0.66)">12</div>
<div class="t l" style="left:470.8px;top:502.3px;font-size:8.8px;transform:scaleX(0.66)">13</div>
<div class="t l" style="left:608.7px;top:503.2px;font-size:8.8px;transform:scaleX(0.66)">14</div>
<div class="t l" style="left:746.5px;top:502.0px;font-size:8.8px;transform:scaleX(0.66)">15</div>
<div class="b" style="left:331.8px;top:605.7px;width:23.3px;height:129.3px;background:#a8dadc;border-color:#6a9db3"></div>
<div class="t l" style="left:324.0px;top:666.0px;font-size:8.8px;transform:scaleX(0.66)">(nil)</div>
<div class="b" style="left:382.4px;top:605.7px;width:101.7px;height:129.3px;background:#d0d0fb;border-color:#7c9bb4"></div>
<div class="t k" style="left:388.60px;top:615.1px;font-size:8.8px;transform:scaleX(0.66)">id</div>
<div class="t" style="left:393.76px;top:615.1px;font-size:8.8px;transform:scaleX(0.66)">: sugarX:..</div>
<div class="t k" style="left:388.60px;top:628.7px;font-size:8.8px;transform:scaleX(0.66)">productName</div>
<div class="t" style="left:426.03px;top:628.7px;font-size:8.8px;transform:scaleX(0.66)">: sugarX</div>
<div class="t k" style="left:388.60px;top:642.1px;font-size:8.8px;transform:scaleX(0.66)">currentOwnerOrgId</div>
<div class="t" style="left:442.17px;top:642.1px;font-size:8.8px;transform:scaleX(0.66)">: ProducerMSP</div>
<div class="t k" style="left:388.60px;top:655.7px;font-size:8.8px;transform:scaleX(0.66)">currentBlockerOrgId</div>
<div class="t" style="left:445.40px;top:655.7px;font-size:8.8px;transform:scaleX(0.66)">: null</div>
<div class="t k" style="left:388.60px;top:669.3px;font-size:8.8px;transform:scaleX(0.66)">currentReceiverOrgId</div>
<div class="t" style="left:448.32px;top:669.3px;font-size:8.8px;transform:scaleX(0.66)">: null</div>
<div class="t k" style="left:388.60px;top:683.1px;font-size:8.8px;transform:scaleX(0.66)">batchIngredientIds</div>
<div class="t" style="left:440.55px;top:683.1px;font-size:8.8px;transform:scaleX(0.66)">: []</div>
<div class="t k" style="left:388.60px;top:696.7px;font-size:8.8px;transform:scaleX(0.66)">params</div>
<div class="t" style="left:409.26px;top:696.7px;font-size:8.8px;transform:scaleX(0.66)">: {}</div>
<div class="t k" style="left:388.60px;top:710.7px;font-size:8.8px;transform:scaleX(0.66)">outputBatchId</div>
<div class="t" style="left:427.96px;top:710.7px;font-size:8.8px;transform:scaleX(0.66)">: null</div>
<div class="t k" style="left:388.60px;top:724.2px;font-size:8.8px;transform:scaleX(0.66)">state</div>
<div class="t" style="left:402.16px;top:724.2px;font-size:8.8px;transform:scaleX(0.66)">: Unblocked</div>
<div class="b" style="left:506.7px;top:605.7px;width:115.4px;height:129.3px;background:#f7d4fb;border-color:#7c9bb4"></div>
<div class="t k" style="left:513.10px;top:615.1px;font-size:8.8px;transform:scaleX(0.66)">id</div>
<div class="t" style="left:518.26px;top:615.1px;font-size:8.8px;transform:scaleX(0.66)">: sugarX:..</div>
<div class="t k" style="left:513.10px;top:628.7px;font-size:8.8px;transform:scaleX(0.66)">productName</div>
<div class="t" style="left:550.53px;top:628.7px;font-size:8.8px;transform:scaleX(0.66)">: sugarX</div>
<div class="t k" style="left:513.10px;top:642.1px;font-size:8.8px;transform:scaleX(0.66)">currentOwnerOrgId</div>
<div class="t" style="left:566.67px;top:642.1px;font-size:8.8px;transform:scaleX(0.66)">: ProducerMSP</div>
<div class="t k" style="left:513.10px;top:655.7px;font-size:8.8px;transform:scaleX(0.66)">currentBlockerOrgId</div>
<div class="t" style="left:569.90px;top:655.7px;font-size:8.8px;transform:scaleX(0.66)">: null</div>
<div class="t k" style="left:513.10px;top:669.3px;font-size:8.8px;transform:scaleX(0.66)">currentReceiverOrgId</div>
<div class="t" style="left:572.82px;top:669.3px;font-size:8.8px;transform:scaleX(0.66)">: ManufacturerMSP</div>
<div class="t k" style="left:513.10px;top:683.1px;font-size:8.8px;transform:scaleX(0.66)">batchIngredientIds</div>
<div class="t" style="left:565.05px;top:683.1px;font-size:8.8px;transform:scaleX(0.66)">: []</div>
<div class="t k" style="left:513.10px;top:696.7px;font-size:8.8px;transform:scaleX(0.66)">params</div>
<div class="t" style="left:533.76px;top:696.7px;font-size:8.8px;transform:scaleX(0.66)">: {}</div>
<div class="t k" style="left:513.10px;top:710.7px;font-size:8.8px;transform:scaleX(0.66)">outputBatchId</div>
<div class="t" style="left:552.46px;top:710.7px;font-size:8.8px;transform:scaleX(0.66)">: null</div>
<div class="t k" style="left:513.10px;top:724.2px;font-size:8.8px;transform:scaleX(0.66)">state</div>
<div class="t" style="left:526.66px;top:724.2px;font-size:8.8px;transform:scaleX(0.66)">: Pending</div>
<div class="b" style="left:646.1px;top:605.7px;width:110.9px;height:129.3px;background:#dcaee2;border-color:#7c9bb4"></div>
<div class="t k" style="left:652.30px;top:615.1px;font-size:8.8px;transform:scaleX(0.66)">id</div>
<div class="t" style="left:657.46px;top:615.1px;font-size:8.8px;transform:scaleX(0.66)">: sugarX:..</div>
<div class="t k" style="left:652.30px;top:628.7px;font-size:8.8px;transform:scaleX(0.66)">productName</div>
<div class="t" style="left:689.73px;top:628.7px;font-size:8.8px;transform:scaleX(0.66)">: sugarX</div>
<div class="t k" style="left:652.30px;top:642.1px;font-size:8.8px;transform:scaleX(0.66)">currentOwnerOrgId</div>
<div class="t" style="left:705.87px;top:642.1px;font-size:8.8px;transform:scaleX(0.66)">: ManufacturerMSP</div>
<div class="t k" style="left:652.30px;top:655.7px;font-size:8.8px;transform:scaleX(0.66)">currentBlockerOrgId</div>
<div class="t" style="left:709.10px;top:655.7px;font-size:8.8px;transform:scaleX(0.66)">: null</div>
<div class="t k" style="left:652.30px;top:669.3px;font-size:8.8px;transform:scaleX(0.66)">currentReceiverOrgId</div>
<div class="t" style="left:712.02px;top:669.3px;font-size:8.8px;transform:scaleX(0.66)">: null</div>
<div class="t k" style="left:652.30px;top:683.1px;font-size:8.8px;transform:scaleX(0.66)">batchIngredientIds</div>
<div class="t" style="left:704.25px;top:683.1px;font-size:8.8px;transform:scaleX(0.66)">: []</div>
<div class="t k" style="left:652.30px;top:696.7px;font-size:8.8px;transform:scaleX(0.66)">params</div>
<div class="t" style="left:672.96px;top:696.7px;font-size:8.8px;transform:scaleX(0.66)">: {}</div>
<div class="t k" style="left:652.30px;top:710.7px;font-size:8.8px;transform:scaleX(0.66)">outputBatchId</div>
<div class="t" style="left:691.66px;top:710.7px;font-size:8.8px;transform:scaleX(0.66)">: null</div>
<div class="t k" style="left:652.30px;top:724.2px;font-size:8.8px;transform:scaleX(0.66)">state</div>
<div class="t" style="left:665.86px;top:724.2px;font-size:8.8px;transform:scaleX(0.66)">: Unblocked</div>
<div class="b" style="left:780.7px;top:605.7px;width:111.5px;height:129.3px;background:#a8ccfc;border-color:#7c9bb4"></div>
<div class="t k" style="left:786.80px;top:615.1px;font-size:8.8px;transform:scaleX(0.66)">id</div>
<div class="t" style="left:791.96px;top:615.1px;font-size:8.8px;transform:scaleX(0.66)">: sugarX:..</div>
<div class="t k" style="left:786.80px;top:628.7px;font-size:8.8px;transform:scaleX(0.66)">productName</div>
<div class="t" style="left:824.23px;top:628.7px;font-size:8.8px;transform:scaleX(0.66)">: sugarX</div>
<div class="t k" style="left:786.80px;top:642.1px;font-size:8.8px;transform:scaleX(0.66)">currentOwnerOrgId</div>
<div class="t" style="left:840.37px;top:642.1px;font-size:8.8px;transform:scaleX(0.66)">: ManufacturerMSP</div>
<div class="t k" style="left:786.80px;top:655.7px;font-size:8.8px;transform:scaleX(0.66)">currentBlockerOrgId</div>
<div class="t" style="left:843.60px;top:655.7px;font-size:8.8px;transform:scaleX(0.66)">: null</div>
<div class="t k" style="left:786.80px;top:669.3px;font-size:8.8px;transform:scaleX(0.66)">currentReceiverOrgId</div>
<div class="t" style="left:846.52px;top:669.3px;font-size:8.8px;transform:scaleX(0.66)">: null</div>
<div class="t k" style="left:786.80px;top:683.1px;font-size:8.8px;transform:scaleX(0.66)">batchIngredientIds</div>
<div class="t" style="left:838.75px;top:683.1px;font-size:8.8px;transform:scaleX(0.66)">: []</div>
<div class="t k" style="left:786.80px;top:696.7px;font-size:8.8px;transform:scaleX(0.66)">params</div>
<div class="t" style="left:807.46px;top:696.7px;font-size:8.8px;transform:scaleX(0.66)">: {}</div>
<div class="t k" style="left:786.80px;top:710.7px;font-size:8.8px;transform:scaleX(0.66)">outputBatchId</div>
<div class="t" style="left:826.16px;top:710.7px;font-size:8.8px;transform:scaleX(0.66)">: orange-juiceX:...</div>
<div class="t k" style="left:786.80px;top:724.2px;font-size:8.8px;transform:scaleX(0.66)">state</div>
<div class="t" style="left:800.36px;top:724.2px;font-size:8.8px;transform:scaleX(0.66)">: Processed</div>
<div class="t l" style="left:347.0px;top:655.6px;font-size:8.8px;transform:scaleX(0.66)">12</div>
<div class="t l" style="left:475.8px;top:655.6px;font-size:8.8px;transform:scaleX(0.66)">13</div>
<div class="t l" style="left:611.0px;top:656.3px;font-size:8.8px;transform:scaleX(0.66)">14</div>
<div class="t l" style="left:750.2px;top:655.6px;font-size:8.8px;transform:scaleX(0.66)">15</div>
<div class="b" style="left:331.8px;top:766.8px;width:23.7px;height:129.3px;background:#a8dadc;border-color:#6a9db3"></div>
<div class="t l" style="left:324.1px;top:826.5px;font-size:8.8px;transform:scaleX(0.66)">(nil)</div>
<div class="b" style="left:380.8px;top:766.8px;width:122.9px;height:129.3px;background:#a8ccfc;border-color:#7c9bb4"></div>
<div class="t k" style="left:387.30px;top:776.2px;font-size:8.8px;transform:scaleX(0.66)">id</div>
<div class="t" style="left:392.46px;top:776.2px;font-size:8.8px;transform:scaleX(0.66)">: orange-juiceX:..</div>
<div class="t k" style="left:387.30px;top:789.8px;font-size:8.8px;transform:scaleX(0.66)">productName</div>
<div class="t" style="left:424.73px;top:789.8px;font-size:8.8px;transform:scaleX(0.66)">: orange-juiceX</div>
<div class="t k" style="left:387.30px;top:803.2px;font-size:8.8px;transform:scaleX(0.66)">currentOwnerOrgId</div>
<div class="t" style="left:440.87px;top:803.2px;font-size:8.8px;transform:scaleX(0.66)">: ManufacturerMSP</div>
<div class="t k" style="left:387.30px;top:816.8px;font-size:8.8px;transform:scaleX(0.66)">currentBlockerOrgId</div>
<div class="t" style="left:444.10px;top:816.8px;font-size:8.8px;transform:scaleX(0.66)">: null</div>
<div class="t k" style="left:387.30px;top:830.4px;font-size:8.8px;transform:scaleX(0.66)">currentReceiverOrgId</div>
<div class="t" style="left:447.02px;top:830.4px;font-size:8.8px;transform:scaleX(0.66)">: null</div>
<div class="t k" style="left:387.30px;top:844.2px;font-size:8.8px;transform:scaleX(0.66)">batchIngredientIds</div>
<div class="t" style="left:439.25px;top:844.2px;font-size:8.8px;transform:scaleX(0.66)">: [orangeX:..., sugarX:...]</div>
<div class="t k" style="left:387.30px;top:857.8px;font-size:8.8px;transform:scaleX(0.66)">params</div>
<div class="t" style="left:407.96px;top:857.8px;font-size:8.8px;transform:scaleX(0.66)">: { "temp" : 35.0 }</div>
<div class="t k" style="left:387.30px;top:871.8px;font-size:8.8px;transform:scaleX(0.66)">outputBatchId</div>
<div class="t" style="left:426.66px;top:871.8px;font-size:8.8px;transform:scaleX(0.66)">: null</div>
<div class="t k" style="left:387.30px;top:885.3px;font-size:8.8px;transform:scaleX(0.66)">state</div>
<div class="t" style="left:400.86px;top:885.3px;font-size:8.8px;transform:scaleX(0.66)">: Unblocked</div>
<div class="b" style="left:528.6px;top:766.8px;width:122.5px;height:129.3px;background:#d6ecf3;border-color:#7c9bb4"></div>
<div class="t k" style="left:535.10px;top:776.2px;font-size:8.8px;transform:scaleX(0.66)">id</div>
<div class="t" style="left:540.26px;top:776.2px;font-size:8.8px;transform:scaleX(0.66)">: orange-juiceX:..</div>
<div class="t k" style="left:535.10px;top:789.8px;font-size:8.8px;transform:scaleX(0.66)">productName</div>
<div class="t" style="left:572.53px;top:789.8px;font-size:8.8px;transform:scaleX(0.66)">: orange-juiceX</div>
<div class="t k" style="left:535.10px;top:803.2px;font-size:8.8px;transform:scaleX(0.66)">currentOwnerOrgId</div>
<div class="t" style="left:588.67px;top:803.2px;font-size:8.8px;transform:scaleX(0.66)">: DelivererMSP</div>
<div class="t k" style="left:535.10px;top:816.8px;font-size:8.8px;transform:scaleX(0.66)">currentBlockerOrgId</div>
<div class="t" style="left:591.90px;top:816.8px;font-size:8.8px;transform:scaleX(0.66)">: null</div>
<div class="t k" style="left:535.10px;top:830.4px;font-size:8.8px;transform:scaleX(0.66)">currentReceiverOrgId</div>
<div class="t" style="left:594.82px;top:830.4px;font-size:8.8px;transform:scaleX(0.66)">: null</div>
<div class="t k" style="left:535.10px;top:844.2px;font-size:8.8px;transform:scaleX(0.66)">batchIngredientIds</div>
<div class="t" style="left:587.05px;top:844.2px;font-size:8.8px;transform:scaleX(0.66)">: [orangeX:..., sugarX:...]</div>
<div class="t k" style="left:535.10px;top:857.8px;font-size:8.8px;transform:scaleX(0.66)">params</div>
<div class="t" style="left:555.76px;top:857.8px;font-size:8.8px;transform:scaleX(0.66)">: { "temp" : 35.0 }</div>
<div class="t k" style="left:535.10px;top:871.8px;font-size:8.8px;transform:scaleX(0.66)">outputBatchId</div>
<div class="t" style="left:574.46px;top:871.8px;font-size:8.8px;transform:scaleX(0.66)">: null</div>
<div class="t k" style="left:535.10px;top:885.3px;font-size:8.8px;transform:scaleX(0.66)">state</div>
<div class="t" style="left:548.66px;top:885.3px;font-size:8.8px;transform:scaleX(0.66)">: Unblocked</div>
<div class="b" style="left:676.1px;top:766.8px;width:122.2px;height:129.3px;background:#ffa8cc;border-color:#7c9bb4"></div>
<div class="t k" style="left:682.60px;top:776.2px;font-size:8.8px;transform:scaleX(0.66)">id</div>
<div class="t" style="left:687.76px;top:776.2px;font-size:8.8px;transform:scaleX(0.66)">: orange-juiceX:..</div>
<div class="t k" style="left:682.60px;top:789.8px;font-size:8.8px;transform:scaleX(0.66)">productName</div>
<div class="t" style="left:720.03px;top:789.8px;font-size:8.8px;transform:scaleX(0.66)">: orange-juiceX</div>
<div class="t k" style="left:682.60px;top:803.2px;font-size:8.8px;transform:scaleX(0.66)">currentOwnerOrgId</div>
<div class="t" style="left:736.17px;top:803.2px;font-size:8.8px;transform:scaleX(0.66)">: RetailerMSP</div>
<div class="t k" style="left:682.60px;top:816.8px;font-size:8.8px;transform:scaleX(0.66)">currentBlockerOrgId</div>
<div class="t" style="left:739.40px;top:816.8px;font-size:8.8px;transform:scaleX(0.66)">: null</div>
<div class="t k" style="left:682.60px;top:830.4px;font-size:8.8px;transform:scaleX(0.66)">currentReceiverOrgId</div>
<div class="t" style="left:742.32px;top:830.4px;font-size:8.8px;transform:scaleX(0.66)">: null</div>
<div class="t k" style="left:682.60px;top:844.2px;font-size:8.8px;transform:scaleX(0.66)">batchIngredientIds</div>
<div class="t" style="left:734.55px;top:844.2px;font-size:8.8px;transform:scaleX(0.66)">: [orangeX:..., sugarX:...]</div>
<div class="t k" style="left:682.60px;top:857.8px;font-size:8.8px;transform:scaleX(0.66)">params</div>
<div class="t" style="left:703.26px;top:857.8px;font-size:8.8px;transform:scaleX(0.66)">: { "temp" : 35.0 }</div>
<div class="t k" style="left:682.60px;top:871.8px;font-size:8.8px;transform:scaleX(0.66)">outputBatchId</div>
<div class="t" style="left:721.96px;top:871.8px;font-size:8.8px;transform:scaleX(0.66)">: null</div>
<div class="t k" style="left:682.60px;top:885.3px;font-size:8.8px;transform:scaleX(0.66)">state</div>
<div class="t" style="left:696.16px;top:885.3px;font-size:8.8px;transform:scaleX(0.66)">: Unblocked</div>
<div class="t l" style="left:345.3px;top:816.3px;font-size:8.8px;transform:scaleX(0.66)">15</div>
<div class="t l" style="left:493.1px;top:816.3px;font-size:8.8px;transform:scaleX(0.66)">16</div>
<div class="t l" style="left:641.0px;top:816.3px;font-size:8.8px;transform:scaleX(0.66)">17</div>
<svg class="a" width="901" height="898" viewBox="0 0 901 898">
<line x1="30.0" y1="82.6" x2="52.5" y2="82.6"/>
<path class="h" d="M54.8 82.6 l-4.9 -3 l1.4 3 l-1.4 3 z"/>
<line x1="191.5" y1="82.6" x2="210.3" y2="82.6"/>
<path class="o" d="M213.0 82.6 l-4.4 -2.6 l1.2 2.6 l-1.2 2.6 z"/>
<line x1="28.9" y1="196.9" x2="50.3" y2="196.9"/>
<path class="h" d="M52.6 196.9 l-4.9 -3 l1.4 3 l-1.4 3 z"/>
<line x1="189.8" y1="196.9" x2="210.3" y2="196.9"/>
<path class="h" d="M212.6 196.9 l-4.9 -3 l1.4 3 l-1.4 3 z"/>
<line x1="29.5" y1="323.5" x2="50.3" y2="323.5"/>
<path class="h" d="M52.6 323.5 l-4.9 -3 l1.4 3 l-1.4 3 z"/>
<line x1="212.2" y1="323.5" x2="233.4" y2="323.5"/>
<path class="h" d="M235.7 323.5 l-4.9 -3 l1.4 3 l-1.4 3 z"/>
<line x1="427.7" y1="82.6" x2="449.4" y2="82.6"/>
<path class="h" d="M451.7 82.6 l-4.9 -3 l1.4 3 l-1.4 3 z"/>
<line x1="575.4" y1="144.4" x2="575.4" y2="187.3"/>
<path class="h" d="M575.4 189.2 l-3 -4.9 l3 1.4 l3 -1.4 z"/>
<line x1="759.0" y1="52.6" x2="776.1" y2="52.6"/>
<path class="h" d="M778.4 52.6 l-4.9 -3 l1.4 3 l-1.4 3 z"/>
<line x1="759.8" y1="115.1" x2="776.5" y2="115.1"/>
<path class="h" d="M778.8 115.1 l-4.9 -3 l1.4 3 l-1.4 3 z"/>
<line x1="760.2" y1="170.6" x2="776.5" y2="170.6"/>
<path class="h" d="M778.8 170.6 l-4.9 -3 l1.4 3 l-1.4 3 z"/>
<line x1="760.8" y1="226.4" x2="776.5" y2="226.4"/>
<path class="h" d="M778.8 226.4 l-4.9 -3 l1.4 3 l-1.4 3 z"/>
<line x1="761.4" y1="279.6" x2="778.1" y2="279.6"/>
<path class="h" d="M780.4 279.6 l-4.9 -3 l1.4 3 l-1.4 3 z"/>
<line x1="27.5" y1="503.2" x2="43.2" y2="503.2"/>
<path class="h" d="M45.5 503.2 l-4.9 -3 l1.4 3 l-1.4 3 z"/>
<line x1="147.9" y1="503.2" x2="166.1" y2="503.2"/>
<path class="h" d="M168.4 503.2 l-4.9 -3 l1.4 3 l-1.4 3 z"/>
<line x1="27.3" y1="658.0" x2="43.0" y2="658.0"/>
<path class="h" d="M45.3 658.0 l-4.9 -3 l1.4 3 l-1.4 3 z"/>
<line x1="148.3" y1="658.0" x2="166.3" y2="658.0"/>
<path class="h" d="M168.6 658.0 l-4.9 -3 l1.4 3 l-1.4 3 z"/>
<line x1="27.7" y1="823.3" x2="43.0" y2="823.3"/>
<path class="h" d="M45.3 823.3 l-4.9 -3 l1.4 3 l-1.4 3 z"/>
<line x1="148.7" y1="823.3" x2="166.3" y2="823.3"/>
<path class="h" d="M168.6 823.3 l-4.9 -3 l1.4 3 l-1.4 3 z"/>
<line x1="356.6" y1="516.8" x2="377.3" y2="516.8"/>
<path class="h" d="M379.6 516.8 l-4.9 -3 l1.4 3 l-1.4 3 z"/>
<line x1="482.8" y1="516.8" x2="499.2" y2="516.8"/>
<path class="o" d="M501.9 516.8 l-4.4 -2.6 l1.2 2.6 l-1.2 2.6 z"/>
<line x1="621.9" y1="516.6" x2="641.5" y2="516.6"/>
<path class="o" d="M644.2 516.6 l-4.4 -2.6 l1.2 2.6 l-1.2 2.6 z"/>
<line x1="754.9" y1="516.6" x2="776.0" y2="516.6"/>
<path class="o" d="M778.7 516.6 l-4.4 -2.6 l1.2 2.6 l-1.2 2.6 z"/>
<line x1="356.6" y1="671.6" x2="379.9" y2="671.6"/>
<path class="h" d="M382.2 671.6 l-4.9 -3 l1.4 3 l-1.4 3 z"/>
<line x1="485.6" y1="671.6" x2="504.2" y2="671.6"/>
<path class="h" d="M506.5 671.6 l-4.9 -3 l1.4 3 l-1.4 3 z"/>
<line x1="623.6" y1="671.6" x2="643.6" y2="671.6"/>
<path class="o" d="M646.3 671.6 l-4.4 -2.6 l1.2 2.6 l-1.2 2.6 z"/>
<line x1="758.5" y1="671.6" x2="778.2" y2="671.6"/>
<path class="o" d="M780.9 671.6 l-4.4 -2.6 l1.2 2.6 l-1.2 2.6 z"/>
<line x1="357.0" y1="831.9" x2="378.3" y2="831.9"/>
<path class="h" d="M380.6 831.9 l-4.9 -3 l1.4 3 l-1.4 3 z"/>
<line x1="505.2" y1="831.9" x2="526.1" y2="831.9"/>
<path class="h" d="M528.4 831.9 l-4.9 -3 l1.4 3 l-1.4 3 z"/>
<line x1="652.6" y1="831.9" x2="673.6" y2="831.9"/>
<path class="h" d="M675.9 831.9 l-4.9 -3 l1.4 3 l-1.4 3 z"/>
</svg>
<svg class="w" width="901" height="898" viewBox="0 0 901 898">
<g>
<path d="M26.3 591.3 H98.6 V635.7 A13 13 0 0 1 85.6 648.7 H13.3 V604.3 A13 13 0 0 1 26.3 591.3 Z" fill="#e6e8e7"/>
<path d="M30.8 606.4 H99.6 V612.5 H30.8 A2 2 0 0 1 28.8 610.5 V608.4 A2 2 0 0 1 30.8 606.4 Z" fill="#fff"/>
<path d="M12.3 627.5 H81.1 A2 2 0 0 1 83.1 629.5 V631.6 A2 2 0 0 1 81.1 633.6 H12.3 V627.5 Z" fill="#fff"/>
<path d="M126.2 591.3 H197.1 V648.7 H126.2 A13 13 0 0 1 113.2 635.7 V604.3 A13 13 0 0 1 126.2 591.3 Z" fill="#e6e8e7"/>
<path d="M131.7 605.4 H198.1 V634.6 H131.7 A3 3 0 0 1 128.7 631.6 V608.4 A3 3 0 0 1 131.7 605.4 Z" fill="#fff"/>
<path d="M205.8 591.3 H221.6 V648.7 H205.8 V591.3 Z" fill="#e6e8e7"/>
<path d="M232.5 591.3 H314.9 V605.7 H232.5 V591.3 Z" fill="#e6e8e7"/>
<path d="M267.2 591.3 H280.9 V648.7 H267.2 V591.3 Z" fill="#e6e8e7"/>
<path d="M338.7 591.3 H407.5 V648.7 H338.7 A13 13 0 0 1 325.7 635.7 V604.3 A13 13 0 0 1 338.7 591.3 Z" fill="#e6e8e7"/>
<path d="M341.2 606.4 H408.5 V612.5 H341.2 A3 3 0 0 1 338.2 609.5 V609.4 A3 3 0 0 1 341.2 606.4 Z" fill="#fff"/>
<path d="M341.2 627.5 H408.5 V633.6 H341.2 A3 3 0 0 1 338.2 630.6 V630.5 A3 3 0 0 1 341.2 627.5 Z" fill="#fff"/>
<path d="M417.0 591.3 H487.5 A13 13 0 0 1 500.5 604.3 V614.6 A13 13 0 0 1 487.5 627.6 H417.0 V591.3 Z" fill="#e6e8e7"/>
<path d="M417.0 591.3 H432.5 V648.7 H417.0 V591.3 Z" fill="#e6e8e7"/>
<path d="M432.5 606.4 H483.0 A2 2 0 0 1 485.0 608.4 V610.5 A2 2 0 0 1 483.0 612.5 H432.5 V606.4 Z" fill="#fff"/>
<path d="M510.6 591.3 H577.5 A13 13 0 0 1 590.5 604.3 V614.6 A13 13 0 0 1 577.5 627.6 H510.6 V591.3 Z" fill="#e6e8e7"/>
<path d="M510.6 591.3 H526.1 V648.7 H510.6 V591.3 Z" fill="#e6e8e7"/>
<path d="M526.1 606.4 H573.0 A2 2 0 0 1 575.0 608.4 V610.5 A2 2 0 0 1 573.0 612.5 H526.1 V606.4 Z" fill="#fff"/>
<path d="M567.0 626.6 H584.5 L590.5 648.7 H574.0 Z" fill="#e6e8e7"/>
<path d="M619.5 591.3 H685.0 V648.7 H619.5 A13 13 0 0 1 606.5 635.7 V604.3 A13 13 0 0 1 619.5 591.3 Z" fill="#e6e8e7"/>
<path d="M622.0 606.4 H686.0 V612.5 H622.0 A3 3 0 0 1 619.0 609.5 V609.4 A3 3 0 0 1 622.0 606.4 Z" fill="#fff"/>
<path d="M622.0 627.5 H686.0 V633.6 H622.0 A3 3 0 0 1 619.0 630.6 V630.5 A3 3 0 0 1 622.0 627.5 Z" fill="#fff"/>
<path d="M708.6 591.3 H778.2 V635.7 A13 13 0 0 1 765.2 648.7 H695.6 V604.3 A13 13 0 0 1 708.6 591.3 Z" fill="#e6e8e7"/>
<path d="M713.1 606.4 H779.2 V612.5 H713.1 A2 2 0 0 1 711.1 610.5 V608.4 A2 2 0 0 1 713.1 606.4 Z" fill="#fff"/>
<path d="M694.6 627.5 H760.7 A2 2 0 0 1 762.7 629.5 V631.6 A2 2 0 0 1 760.7 633.6 H694.6 V627.5 Z" fill="#fff"/>
<path d="M807.2 591.3 H878.0 V635.7 A13 13 0 0 1 865.0 648.7 H794.2 V604.3 A13 13 0 0 1 807.2 591.3 Z" fill="#e6e8e7"/>
<path d="M811.7 606.4 H879.0 V612.5 H811.7 A2 2 0 0 1 809.7 610.5 V608.4 A2 2 0 0 1 811.7 606.4 Z" fill="#fff"/>
<path d="M793.2 627.5 H860.5 A2 2 0 0 1 862.5 629.5 V631.6 A2 2 0 0 1 860.5 633.6 H793.2 V627.5 Z" fill="#fff"/>
<path d="M290 584.1 H301.4 L345 531 L404 457.2 L402 452.3 Q399.5 451 397.5 453.8 L338 526 Z" fill="#e6e8e7"/>
<path d="M400.5 454.6 Q480 470 531 524.5" fill="none" stroke="#e6e8e7" stroke-width="5.2" stroke-linecap="round"/>
<path d="M529 522.5 L681.5 565.2" fill="none" stroke="#e6e8e7" stroke-width="6.4" stroke-linecap="round"/>
<path d="M677.5 562.5 L686.5 566.5 L675 584 H666 Z" fill="#e6e8e7"/>
<path d="M476.3 583 H483.3 L532.5 526 L527.5 521.5 Z" fill="#e6e8e7"/>
<path d="M301.7 712.7 C312 712.4 320 712.6 325 713.5 C331 715 335 719 340 723 L356.6 736 L440 774 L505 804 Q535 813 552 814 L576 768 L585 737 L601 710 L628.9 656 H642.4 L618 710 L606 737 L598 767 L590 795 L568 846 Q545 844 529 839 L505 830 L440 796 Q390 778 359.4 762 Q340 748 331.6 737.5 Z" fill="#e6e8e7"/>
<g fill="none" stroke="#e6e8e7" stroke-width="4.6" stroke-linejoin="round">
<path transform="translate(15.60 690.30)" d="M18.98064516129032,0 H0 V6.6000000000000005 H18.98064516129032 V13.200000000000001 H0"/>
<path transform="translate(44.18 690.30)" d="M18.98064516129032,0 H0 V13.200000000000001 H18.98064516129032"/>
<path transform="translate(72.76 690.30)" d="M0,-2.3 V15.5"/>
<path transform="translate(82.48 690.30)" d="M18.98064516129032,0 H0 V13.200000000000001 H18.98064516129032 M0,6.6000000000000005 H17.8418064516129"/>
<path transform="translate(111.06 690.30)" d="M0,15.5 V0 L18.98064516129032,13.200000000000001 V-2.3"/>
<path transform="translate(139.64 690.30)" d="M18.98064516129032,0 H0 V13.200000000000001 H18.98064516129032"/>
<path transform="translate(168.22 690.30)" d="M18.98064516129032,0 H0 V13.200000000000001 H18.98064516129032 M0,6.6000000000000005 H17.8418064516129"/>
<path transform="translate(207.30 690.30)" d="M0,15.5 L11.181650793650793,0 H21.5031746031746 V15.5 M4.30063492063492,8.448 H21.5031746031746"/>
<path transform="translate(238.40 690.30)" d="M0,15.5 V0 L18.0984126984127,13.200000000000001 V-2.3"/>
<path transform="translate(266.10 690.30)" d="M0,0 H18.0984126984127 V13.200000000000001 H0 Z"/>
<path transform="translate(303.70 690.30)" d="M0,0 H19.481407035175884 M9.740703517587942,0 V15.5"/>
<path transform="translate(332.78 690.30)" d="M18.334673366834174,0 H0 V13.200000000000001 H18.334673366834174 M0,6.6000000000000005 H17.234592964824124"/>
<path transform="translate(360.72 690.30)" d="M18.334673366834174,0 H0 V13.200000000000001 H18.334673366834174"/>
<path transform="translate(388.65 690.30)" d="M0,-2.3 V15.5 M18.334673366834174,-2.3 V15.5 M0,6.6000000000000005 H18.334673366834174"/>
<path transform="translate(416.59 690.30)" d="M0,15.5 V0 L18.334673366834174,13.200000000000001 V-2.3"/>
<path transform="translate(444.52 690.30)" d="M0,0 H18.334673366834174 V13.200000000000001 H0 Z"/>
<path transform="translate(472.45 690.30)" d="M0,-2.3 V13.200000000000001 H16.04120603015076"/>
<path transform="translate(498.10 690.30)" d="M0,0 H18.334673366834174 V13.200000000000001 H0 Z"/>
<path transform="translate(526.03 690.30)" d="M18.334673366834174,0 H0 V13.200000000000001 H18.334673366834174 V6.864000000000001 H8.250603015075379"/>
<path transform="translate(553.97 690.30)" d="M0,-2.3 V6.6000000000000005 H18.334673366834174 M18.334673366834174,-2.3 V13.200000000000001 H0"/>
<path transform="translate(594.30 690.30)" d="M0,15.5 V0 H17.923809523809524 V7.656 H0"/>
<path transform="translate(621.82 690.30)" d="M0,-2.3 V13.200000000000001 H17.923809523809524 V-2.3"/>
<path transform="translate(649.35 690.30)" d="M0,0 H17.923809523809524 V13.200000000000001 H0 Z M0,6.6000000000000005 H17.923809523809524"/>
<path transform="translate(676.87 690.30)" d="M0,-2.3 V13.200000000000001 H15.671428571428573"/>
<path transform="translate(702.14 690.30)" d="M0,-2.3 V15.5"/>
<path transform="translate(711.74 690.30)" d="M17.923809523809524,0 H0 V13.200000000000001 H17.923809523809524"/>
<path transform="translate(739.27 690.30)" d="M0,15.5 L11.077238095238094,0 H21.30238095238095 V15.5 M4.26047619047619,8.448 H21.30238095238095"/>
<path transform="translate(770.17 690.30)" d="M0,0 H19.050000000000004 M9.525000000000002,0 V15.5"/>
<path transform="translate(798.82 690.30)" d="M0,-2.3 V15.5"/>
<path transform="translate(808.42 690.30)" d="M0,0 H17.923809523809524 V13.200000000000001 H0 Z"/>
<path transform="translate(835.94 690.30)" d="M0,15.5 V0 L17.923809523809524,13.200000000000001 V-2.3"/>
<path transform="translate(863.47 690.30)" d="M17.923809523809524,0 H0 V6.6000000000000005 H17.923809523809524 V13.200000000000001 H0"/>
</g>
</g></svg>
</body></html>
